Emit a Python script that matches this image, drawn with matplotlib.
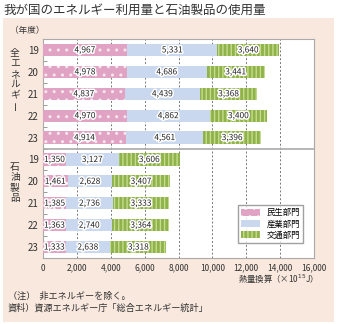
import numpy as np
import matplotlib.pyplot as plt
import matplotlib.patheffects as pe
from matplotlib.patches import Rectangle

plt.rcParams['font.family'] = ['Noto Sans CJK JP', 'DejaVu Sans']
plt.rcParams['hatch.linewidth'] = 1.0

years = ['19', '20', '21', '22', '23']
sectors = ['民生部門', '産業部門', '交通部門']

# 全エネルギー
all_min = [4967, 4978, 4837, 4970, 4914]
all_ind = [5331, 4686, 4439, 4862, 4561]
all_tra = [3640, 3441, 3368, 3400, 3396]
# 石油製品
oil_min = [1350, 1461, 1385, 1363, 1333]
oil_ind = [3127, 2628, 2736, 2740, 2638]
oil_tra = [3606, 3407, 3333, 3364, 3318]

pink = '#e1a3c4'
blue = '#c9d8ef'
green = '#8fb24a'

fig = plt.figure(figsize=(3.38, 3.24), dpi=100)
fig.patches.append(Rectangle((3/338, 2/324), 331/338, 304/324, transform=fig.transFigure,
                             facecolor='#f8e8de', edgecolor='none', zorder=-10))

ax = fig.add_axes([43/338, 1 - 258/324, 271/338, 219/324])
ax.set_facecolor('white')

mins = np.array(all_min + oil_min)
inds = np.array(all_ind + oil_ind)
tras = np.array(all_tra + oil_tra)
ypos = np.arange(10)
h = 0.56

ax.barh(ypos, mins, height=h, color=pink, edgecolor='#f6e6ee', hatch='..', linewidth=0, label=sectors[0], zorder=3)
ax.barh(ypos, inds, left=mins, height=h, color=blue, linewidth=0, label=sectors[1], zorder=3)
ax.barh(ypos, tras, left=mins + inds, height=h, color=green, edgecolor='#c5dc8e', hatch='||||', linewidth=0, label=sectors[2], zorder=3)

stroke = [pe.withStroke(linewidth=2.2, foreground='white')]
for vals, lefts in [(mins, np.zeros(10)), (inds, mins), (tras, mins + inds)]:
    for y, v, l in zip(ypos, vals, lefts):
        ax.text(l + v / 2, y, f'{v:,}', ha='center', va='center', fontsize=6,
                color='#222222', path_effects=stroke, zorder=5)

ax.set_xlim(0, 16000)
ax.set_ylim(9.5, -0.5)
ax.set_xticks(np.arange(0, 16001, 2000))
ax.set_xticklabels([f'{v:,}' for v in np.arange(0, 16001, 2000)], fontsize=6, color='#333333')
ax.set_yticks(ypos)
ax.set_yticklabels(years * 2, fontsize=7, color='#333333')
ax.set_yticks(np.arange(0.5, 9.5, 1), minor=True)
ax.tick_params(axis='y', which='major', length=0, pad=3)
ax.tick_params(axis='y', which='minor', direction='in', length=3, color='#888888')
ax.tick_params(axis='x', length=0, pad=4)
ax.xaxis.grid(True, linestyle=(0, (2, 2)), color='#777777', linewidth=0.7, zorder=1)
ax.axhline(4.5, color='#aaaaaa', linewidth=1.2, zorder=2)
for s in ax.spines.values():
    s.set_color('#aaaaaa')

ax.legend(loc='lower right', bbox_to_anchor=(0.975, 0.05), fontsize=6, frameon=True, fancybox=False,
          edgecolor='#888888', handlelength=2.2, handleheight=0.9, labelspacing=0.25,
          borderpad=0.4, handletextpad=0.8)

fig.text(3/338, 1 - 10/324, '我が国のエネルギー利用量と石油製品の使用量', fontsize=9,
         va='center', ha='left', color='#333333')
fig.text(27/338, 1 - 30/324, '（年度）', fontsize=6.2, va='center', ha='center', color='#333333')

def vlabel(s, x, y0, step):
    for i, ch in enumerate(s):
        rot = 90 if ch == 'ー' else 0
        fig.text(x / 338, 1 - (y0 + i * step) / 324, ch, fontsize=7, rotation=rot,
                 ha='center', va='center', color='#333333')

vlabel('全エネルギー', 15, 53, 10.4)
vlabel('石油製品', 15, 167, 10.4)

fig.text(314/338, 1 - 279/324, '熱量換算（×10$^{15}$J）', fontsize=6, ha='right', va='center', color='#333333')
fig.text(8/338, 1 - 296/324, '（注）  非エネルギーを除く。', fontsize=6.6, ha='left', va='center', color='#333333')
fig.text(8/338, 1 - 308/324, '資料）資源エネルギー庁「総合エネルギー統計」', fontsize=6.6, ha='left', va='center', color='#333333')

fig.savefig('out.png', dpi=100)
